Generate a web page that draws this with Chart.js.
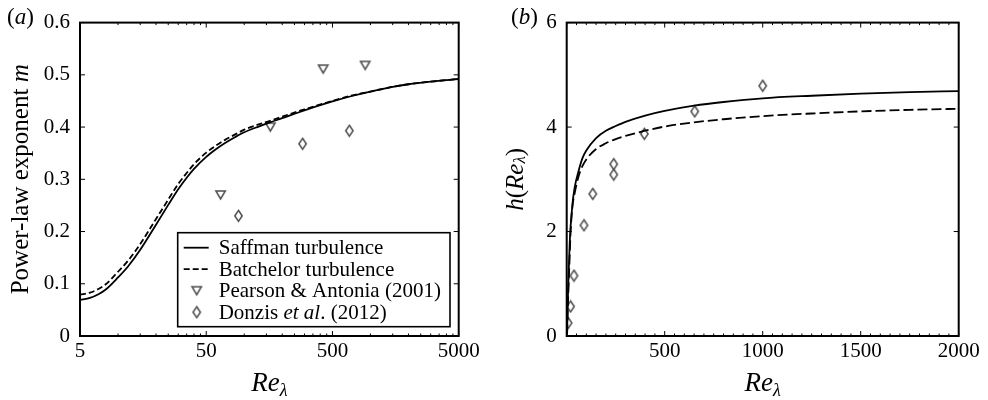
<!DOCTYPE html>
<html>
<head>
<meta charset="utf-8">
<script src="https://cdn.jsdelivr.net/npm/chart.js@4.4.1/dist/chart.umd.min.js"></script>
<style>
    html, body { margin: 0; padding: 0; background: #fff; }
    #wrap { position: relative; width: 988px; height: 400px; }
    .panel { position: absolute; top: 0; width: 494px; height: 400px; }
</style>
</head>
<body>
<div id="wrap">
    <div class="panel" style="left:0"><canvas id="chartA"></canvas></div>
    <div class="panel" style="left:494px"><canvas id="chartB"></canvas></div>
</div>
<script>
// --- DATA: panel (a) ---
const reA = [5, 6, 7, 8, 10, 12, 15, 20, 25, 30, 35, 40, 50, 60, 70, 85, 100, 130, 160, 200, 300, 500, 700, 1000, 1500, 2000, 3000, 5000];
const saffmanA = [0.069, 0.073, 0.080, 0.089, 0.112, 0.133, 0.165, 0.213, 0.251, 0.281, 0.303, 0.320, 0.343, 0.358, 0.369, 0.381, 0.390, 0.401, 0.409, 0.417, 0.432, 0.449, 0.459, 0.468, 0.477, 0.482, 0.487, 0.492];
const batchelorA = [0.079, 0.083, 0.090, 0.099, 0.123, 0.144, 0.176, 0.224, 0.261, 0.291, 0.312, 0.329, 0.351, 0.365, 0.375, 0.386, 0.395, 0.405, 0.412, 0.420, 0.434, 0.450, 0.460, 0.468, 0.477, 0.482, 0.487, 0.492];
const pearsonRe = [65, 161, 422, 908];
const pearsonM = [0.27, 0.40, 0.511, 0.518];
const donzisReA = [90, 290, 680];
const donzisMA = [0.23, 0.368, 0.393];

// --- DATA: panel (b) ---
const reB = [2, 5, 10, 15, 20, 30, 40, 60, 80, 100, 150, 200, 250, 300, 400, 500, 650, 800, 1000, 1250, 1500, 1750, 2000];
const saffmanB = [0.05, 0.6, 1.2, 1.75, 2.1, 2.55, 2.83, 3.15, 3.40, 3.55, 3.79, 3.93, 4.02, 4.10, 4.22, 4.31, 4.41, 4.48, 4.55, 4.60, 4.64, 4.67, 4.69];
const batchelorB = [0.03, 0.45, 1.0, 1.5, 2.0, 2.5, 2.72, 3.05, 3.25, 3.38, 3.58, 3.69, 3.77, 3.83, 3.93, 4.01, 4.09, 4.15, 4.21, 4.26, 4.30, 4.33, 4.35];
const donzisReB = [7, 20, 37, 88, 133, 240, 240, 396, 653, 1000];
const donzisH = [0.25, 0.565, 1.155, 2.12, 2.72, 3.09, 3.29, 3.87, 4.30, 4.79];

// --- TICKS ---
const xTicksA = [5, 50, 500, 5000];
const yTicksA = [0, 0.1, 0.2, 0.3, 0.4, 0.5, 0.6];
const xTicksB = [0, 500, 1000, 1500, 2000];
const yTicksB = [0, 2, 4, 6];

const xMinorA = [];
[5, 50, 500].forEach(d => { for (let k = 2; k <= 9; k++) xMinorA.push(d * k); });
const xMinorB = [];
for (let v = 50; v < 2000; v += 50) if (v % 500) xMinorB.push(v);

const SERIF = '"Liberation Serif", "Times New Roman", serif';
Chart.defaults.font.family = SERIF;
Chart.defaults.font.size = 21;
Chart.defaults.color = '#000';

const pts = (xs, ys) => xs.map((x, i) => ({ x, y: ys[i] }));

// --- MARKERS ---
function makeMarker(kind) {
    const c = document.createElement('canvas');
    c.width = 13; c.height = 14;
    const g = c.getContext('2d');
    g.strokeStyle = '#4d4d4d';
    g.lineWidth = 1.5;
    g.beginPath();
    if (kind === 'tri') {
        g.moveTo(1.8, 3); g.lineTo(11.2, 3); g.lineTo(6.5, 11);
    } else {
        g.moveTo(6.5, 1.5); g.lineTo(10.2, 7); g.lineTo(6.5, 12.5); g.lineTo(2.8, 7);
    }
    g.closePath();
    g.stroke();
    return c;
}
const triMark = makeMarker('tri');
const diaMark = makeMarker('dia');

// --- TEXT RUNS ---
const fontOf = r => `${r.it ? 'italic ' : ''}${r.size || 25}px ${SERIF}`;

function drawRuns(ctx, runs, x, y, align) {
    let w = 0;
    runs.forEach(r => { ctx.font = fontOf(r); w += ctx.measureText(r.t).width; });
    let cx = align === 'center' ? x - w / 2 : x;
    runs.forEach(r => {
        ctx.font = fontOf(r);
        ctx.fillText(r.t, cx, y + (r.dy || 0));
        cx += ctx.measureText(r.t).width;
    });
}

// --- FRAME / TICKS / TITLES PLUGIN ---
const framePlugin = {
    id: 'frame',
    afterDraw(chart, args, o) {
        const ctx = chart.ctx, a = chart.chartArea;
        const sx = chart.scales.x, sy = chart.scales.y;
        ctx.save();
        ctx.strokeStyle = '#000';
        ctx.fillStyle = '#000';
        ctx.lineWidth = 1;

        const xTick = (v, len) => {
            const p = sx.getPixelForValue(v);
            ctx.beginPath();
            ctx.moveTo(p, a.bottom); ctx.lineTo(p, a.bottom - len);
            ctx.moveTo(p, a.top); ctx.lineTo(p, a.top + len);
            ctx.stroke();
        };
        const yTick = (v, len) => {
            const p = sy.getPixelForValue(v);
            ctx.beginPath();
            ctx.moveTo(a.left, p); ctx.lineTo(a.left + len, p);
            ctx.moveTo(a.right, p); ctx.lineTo(a.right - len, p);
            ctx.stroke();
        };
        o.xMajor.forEach(v => xTick(v, 5));
        o.xMinor.forEach(v => xTick(v, 2.5));
        o.yMajor.forEach(v => yTick(v, 5));

        ctx.lineWidth = 2;
        ctx.strokeRect(a.left, a.top, a.right - a.left, a.bottom - a.top);

        // axis titles
        ctx.textBaseline = 'alphabetic';
        drawRuns(ctx, [{ t: 'Re', it: 1, size: 27 }, { t: 'λ', it: 1, size: 18, dy: 5 }], (a.left + a.right) / 2, 391, 'center');

        ctx.save();
        ctx.translate(o.yTitleX, (a.top + a.bottom) / 2);
        ctx.rotate(-Math.PI / 2);
        ctx.textBaseline = 'middle';
        drawRuns(ctx, o.yTitle, 0, 0, 'center');
        ctx.restore();

        // panel label
        drawRuns(ctx, [{ t: '(', size: 23 }, { t: o.panel, it: 1, size: 23 }, { t: ')', size: 23 }], o.panelX, 24, 'left');

        // legend
        if (o.legend) {
            const L = o.legend;
            ctx.fillStyle = '#fff';
            ctx.fillRect(L.left, L.top, L.w, L.h);
            ctx.fillStyle = '#000';
            ctx.lineWidth = 1.6;
            ctx.strokeRect(L.left, L.top, L.w, L.h);
            const rows = [
                { kind: 'solid', runs: [{ t: 'Saffman turbulence', size: 21 }] },
                { kind: 'dash', runs: [{ t: 'Batchelor turbulence', size: 21 }] },
                { kind: 'tri', runs: [{ t: 'Pearson & Antonia (2001)', size: 21 }] },
                { kind: 'dia', runs: [{ t: 'Donzis ', size: 21 }, { t: 'et al', it: 1, size: 21 }, { t: '. (2012)', size: 21 }] }
            ];
            ctx.textBaseline = 'middle';
            rows.forEach((r, i) => {
                const y = L.top + 15 + i * 21.5;
                if (r.kind === 'solid' || r.kind === 'dash') {
                    ctx.lineWidth = 1.8;
                    ctx.setLineDash(r.kind === 'dash' ? [6, 3] : []);
                    ctx.beginPath();
                    ctx.moveTo(L.left + 6, y); ctx.lineTo(L.left + 31, y);
                    ctx.stroke();
                    ctx.setLineDash([]);
                } else {
                    const img = r.kind === 'tri' ? triMark : diaMark;
                    ctx.drawImage(img, L.left + 19 - img.width / 2, y - img.height / 2);
                }
                drawRuns(ctx, r.runs, L.left + 41, y + 1, 'left');
            });
        }
        ctx.restore();
    }
};

function lineSet(data, dash) {
    return {
        type: 'line', data, borderColor: '#000', borderWidth: 1.8,
        borderDash: dash, pointRadius: 0, fill: false,
        cubicInterpolationMode: 'monotone'
    };
}
function markSet(data, img) {
    return {
        type: 'scatter', data, pointStyle: img, pointRadius: 6,
        borderColor: '#4d4d4d', backgroundColor: 'rgba(0,0,0,0)', showLine: false
    };
}

function baseScales(xCfg, yCfg) {
    return {
        x: Object.assign({
            grid: { display: false, drawTicks: false },
            border: { display: false },
            ticks: { padding: 3, maxRotation: 0, autoSkip: false, font: { size: 21 } },
            afterFit: s => { s.height = 64; }
        }, xCfg),
        y: Object.assign({
            grid: { display: false, drawTicks: false },
            border: { display: false },
            ticks: { padding: 10, autoSkip: false, font: { size: 21 } }
        }, yCfg)
    };
}

// --- PANEL (a) ---
const chartA = new Chart(document.getElementById('chartA'), {
    data: {
        datasets: [
            lineSet(pts(reA, saffmanA), []),
            lineSet(pts(reA, batchelorA), [6, 3]),
            markSet(pts(pearsonRe, pearsonM), triMark),
            markSet(pts(donzisReA, donzisMA), diaMark)
        ]
    },
    options: {
        responsive: true, maintainAspectRatio: false, animation: false,
        layout: { padding: { top: 14, right: 35.3, left: 0, bottom: 0 } },
        plugins: {
            legend: { display: false }, tooltip: { enabled: false },
            frame: {
                xMajor: xTicksA, xMinor: xMinorA, yMajor: yTicksA,
                yTitle: [{ t: 'Power-law exponent ' }, { t: 'm', it: 1 }], yTitleX: 21,
                panel: 'a', panelX: 7,
                legend: { left: 177.7, top: 232.7, w: 272.3, h: 94 }
            }
        },
        scales: baseScales(
            { type: 'logarithmic', min: 5, max: 5000,
              afterBuildTicks: s => { s.ticks = xTicksA.map(v => ({ value: v })); } },
            { type: 'linear', min: 0, max: 0.6,
              afterBuildTicks: s => { s.ticks = yTicksA.map(v => ({ value: v })); },
              afterFit: s => { s.width = 80; } }
        )
    },
    plugins: [framePlugin]
});
// tick label formatting
chartA.options.scales.x.ticks.callback = v => String(v);
chartA.options.scales.y.ticks.callback = v => v === 0 ? '0' : v.toFixed(1);
chartA.update();

// --- PANEL (b) ---
const chartB = new Chart(document.getElementById('chartB'), {
    data: {
        datasets: [
            lineSet(pts(reB, saffmanB), []),
            lineSet(pts(reB, batchelorB), [10, 4]),
            markSet(pts(donzisReB, donzisH), diaMark)
        ]
    },
    options: {
        responsive: true, maintainAspectRatio: false, animation: false,
        layout: { padding: { top: 14, right: 29.3, left: 0, bottom: 0 } },
        plugins: {
            legend: { display: false }, tooltip: { enabled: false },
            frame: {
                xMajor: xTicksB, xMinor: xMinorB, yMajor: yTicksB,
                yTitle: [{ t: 'h', it: 1 }, { t: '(' }, { t: 'Re', it: 1 }, { t: 'λ', it: 1, size: 17, dy: 5 }, { t: ')' }],
                yTitleX: 22,
                panel: 'b', panelX: 17
            }
        },
        scales: baseScales(
            { type: 'linear', min: 0, max: 2000,
              afterBuildTicks: s => { s.ticks = xTicksB.map(v => ({ value: v })); } },
            { type: 'linear', min: 0, max: 6,
              afterBuildTicks: s => { s.ticks = yTicksB.map(v => ({ value: v })); },
              afterFit: s => { s.width = 72.7; } }
        )
    },
    plugins: [framePlugin]
});
chartB.options.scales.x.ticks.callback = v => v === 0 ? '' : String(v);
chartB.update();
</script>
</body>
</html>
